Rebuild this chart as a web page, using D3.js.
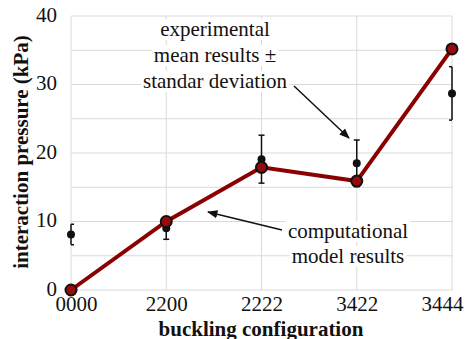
<!DOCTYPE html>
<html>
<head>
<meta charset="utf-8">
<script src="https://cdn.jsdelivr.net/npm/d3@7"></script>
<style>
  body { margin: 0; background: #fff; }
  svg text { font-family: "Liberation Serif", Tinos, "Times New Roman", Times, serif; }
</style>
</head>
<body>
<div id="chart"></div>
<script>
var configs = ["0000", "2200", "2222", "3422", "3444"];
var modelValues = [0, 10, 17.9, 15.9, 35.2];
var expMeans = [8.1, 9.0, 19.1, 18.5, 28.7];
var expSd = [1.5, 1.6, 3.5, 3.4, 3.9];
var yTicks = [0, 10, 20, 30, 40];
var yGrid = [0, 5, 10, 15, 20, 25, 30, 35, 40];

var width = 465, height = 339;
var serif = '"Liberation Serif", Tinos, "Times New Roman", Times, serif';
var svg = d3.select("#chart").append("svg")
    .attr("width", width)
    .attr("height", height);

var x = d3.scalePoint().domain(configs).range([71, 452]);
var y = d3.scaleLinear().domain([0, 40]).range([290, 16]);

// grid
svg.append("g").selectAll("line.h")
    .data(yGrid).enter().append("line")
    .attr("x1", 71).attr("x2", 452)
    .attr("y1", function(d) { return y(d); })
    .attr("y2", function(d) { return y(d); })
    .attr("stroke", "#d9d9d9").attr("stroke-width", 1);

svg.append("g").selectAll("line.v")
    .data(configs).enter().append("line")
    .attr("x1", function(d) { return x(d); })
    .attr("x2", function(d) { return x(d); })
    .attr("y1", y(40)).attr("y2", y(0))
    .attr("stroke", "#d9d9d9").attr("stroke-width", 1);

// axes labels
var yAxis = svg.append("g")
    .attr("transform", "translate(71,0)")
    .call(d3.axisLeft(y).tickValues(yTicks).tickSize(0).tickPadding(14));
yAxis.attr("font-family", serif);
yAxis.select(".domain").remove();
yAxis.selectAll("text")
    .attr("font-size", 21)
    .attr("dy", "0.25em")
    .attr("fill", "#111");

var xAxis = svg.append("g")
    .attr("transform", "translate(0,290)")
    .call(d3.axisBottom(x).tickSize(0).tickPadding(6));
xAxis.attr("font-family", serif);
xAxis.select(".domain").remove();
xAxis.selectAll("text")
    .attr("font-size", 21)
    .attr("dx", function(d, i) { return i == 0 ? 5 : (i == configs.length - 1 ? -10 : 0); })
    .attr("fill", "#111");

svg.append("text")
    .attr("x", 261).attr("y", 336)
    .attr("text-anchor", "middle")
    .attr("font-weight", "bold")
    .attr("font-size", 21)
    .attr("fill", "#111")
    .text("buckling configuration");

svg.append("text")
    .attr("transform", "translate(28,152) rotate(-90)")
    .attr("text-anchor", "middle")
    .attr("font-weight", "bold")
    .attr("font-size", 21)
    .attr("fill", "#111")
    .text("interaction pressure (kPa)");

// annotations
svg.append("defs").append("marker")
    .attr("id", "arrow")
    .attr("viewBox", "0 0 10 10")
    .attr("refX", 9).attr("refY", 5)
    .attr("markerWidth", 7).attr("markerHeight", 7)
    .attr("orient", "auto")
    .append("path").attr("d", "M0,1 L10,5 L0,9 z").attr("fill", "#111");

svg.append("line")
    .attr("x1", 294).attr("y1", 86).attr("x2", 349).attr("y2", 138)
    .attr("stroke", "#111").attr("stroke-width", 1.5)
    .attr("marker-end", "url(#arrow)");

svg.append("line")
    .attr("x1", 282).attr("y1", 230).attr("x2", 208).attr("y2", 212)
    .attr("stroke", "#111").attr("stroke-width", 1.5)
    .attr("marker-end", "url(#arrow)");

function label(lines, cx, y0, dy) {
    var g = svg.append("g");
    lines.forEach(function(t, i) {
        var txt = g.append("text")
            .attr("x", cx).attr("y", y0 + i * dy)
            .attr("text-anchor", "middle")
            .attr("font-size", 21)
            .attr("fill", "#111")
            .text(t);
        var b = txt.node().getBBox();
        g.insert("rect", "text")
            .attr("x", b.x - 2).attr("y", b.y + 2)
            .attr("width", b.width + 4).attr("height", b.height - 3)
            .attr("fill", "#fff");
    });
}
label(["experimental", "mean results \u00b1", "standar deviation"], 215, 36, 26);
label(["computational", "model results"], 348, 238, 25);

// model line
var line = d3.line()
    .x(function(d, i) { return x(configs[i]); })
    .y(function(d) { return y(d); });

svg.append("path")
    .datum(modelValues)
    .attr("d", line)
    .attr("fill", "none")
    .attr("stroke", "#8b0000")
    .attr("stroke-width", 4);

// experimental error bars (caps clipped to the plot area)
var x0 = x.range()[0], x1 = x.range()[1];
var exp = svg.append("g").selectAll("g")
    .data(configs).enter().append("g");

exp.append("line")
    .attr("x1", function(d) { return x(d); })
    .attr("x2", function(d) { return x(d); })
    .attr("y1", function(d, i) { return y(expMeans[i] + expSd[i]); })
    .attr("y2", function(d, i) { return y(expMeans[i] - expSd[i]); })
    .attr("stroke", "#111").attr("stroke-width", 1.5);

[1, -1].forEach(function(s) {
    exp.append("line")
        .attr("x1", function(d) { return Math.max(x0, x(d) - 3); })
        .attr("x2", function(d) { return Math.min(x1, x(d) + 3); })
        .attr("y1", function(d, i) { return y(expMeans[i] + s * expSd[i]); })
        .attr("y2", function(d, i) { return y(expMeans[i] + s * expSd[i]); })
        .attr("stroke", "#111").attr("stroke-width", 1.5);
});

exp.append("circle")
    .attr("cx", function(d) { return x(d); })
    .attr("cy", function(d, i) { return y(expMeans[i]); })
    .attr("r", 4)
    .attr("fill", "#111");

// model markers
svg.append("g").selectAll("circle")
    .data(modelValues).enter().append("circle")
    .attr("cx", function(d, i) { return x(configs[i]); })
    .attr("cy", function(d) { return y(d); })
    .attr("r", 5.5)
    .attr("fill", "#9b0a0a")
    .attr("stroke", "#111")
    .attr("stroke-width", 2);
</script>
</body>
</html>
